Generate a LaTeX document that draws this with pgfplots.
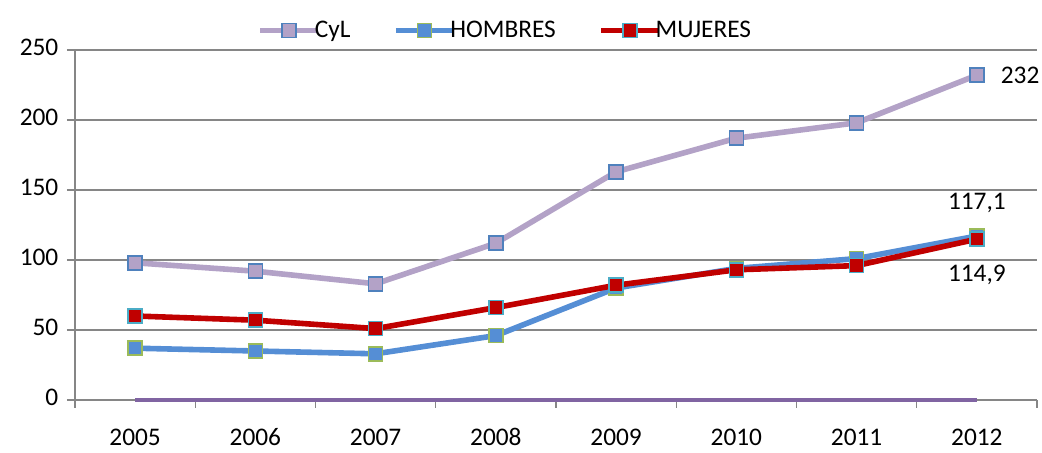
\documentclass[border=0pt]{standalone}
\usepackage{fontspec}
\setmainfont{Carlito}
\usepackage{pgfplots}
\pgfplotsset{compat=1.18}
\definecolor{cylline}{HTML}{B3A2C7}
\definecolor{cylmark}{HTML}{4F81BD}
\definecolor{homline}{HTML}{558ED5}
\definecolor{homedge}{HTML}{9BBB59}
\definecolor{mujline}{HTML}{C00000}
\definecolor{mujedge}{HTML}{4BACC6}
\definecolor{zeroline}{HTML}{8064A2}
\definecolor{gridgray}{HTML}{868686}
\begin{document}
\begin{tikzpicture}
\begin{axis}[
  scale only axis, width=721.5pt, height=262.5pt,
  xmin=-0.5, xmax=7.5, ymin=0, ymax=250,
  xtick={0,...,7}, xticklabels={2005,2006,2007,2008,2009,2010,2011,2012},
  minor xtick={-0.5,0.5,...,7.5},
  ytick={0,50,...,250},
  ymajorgrids, grid style={color=gridgray, line width=1.1pt},
  axis x line*=bottom, axis y line*=left,
  axis line style={gridgray, line width=1.1pt, -},
  tick align=outside,
  major x tick style={draw=none},
  minor x tick style={gridgray, line width=1.1pt},
  minor tick length=6pt,
  major tick length=6pt,
  y tick style={gridgray, line width=1.1pt},
  /pgf/number format/assume math mode=true,
  typeset ticklabels with strut,
  ticklabel style={font=\fontsize{19}{22}\selectfont},
  xticklabel style={yshift=-9pt},
  yticklabel style={xshift=-3pt},
  legend columns=3,
  legend style={at={(0.447,1.025)}, anchor=south, draw=none, fill=none,
    font=\fontsize{19}{22}\selectfont, inner sep=0pt,
    /tikz/every odd column/.append style={column sep=-5pt},
    /tikz/every even column/.append style={column sep=31pt},
    nodes={inner sep=1pt}},
  legend image code/.code={\draw[mark repeat=2,mark phase=2] plot coordinates {(0cm,0cm)(0.75cm,0cm)(1.5cm,0cm)};},
  clip=false,
]
\addplot[zeroline, line width=3pt, forget plot] coordinates {(0,0)(1,0)(2,0)(3,0)(4,0)(5,0)(6,0)(7,0)};
\addplot[cylline, line width=4.2pt, mark=square*, mark size=5.25pt,
  mark options={fill=cylline, draw=cylmark, line width=1.2pt}]
  coordinates {(0,98)(1,92)(2,83)(3,112)(4,163)(5,187)(6,198)(7,232)};
\addlegendentry{CyL}
\addplot[homline, line width=4.2pt, mark=square*, mark size=5.25pt,
  mark options={fill=homline, draw=homedge, line width=1.2pt}]
  coordinates {(0,37)(1,35)(2,33)(3,46)(4,80)(5,94)(6,101)(7,117.1)};
\addlegendentry{HOMBRES}
\addplot[mujline, line width=4.2pt, mark=square*, mark size=5.25pt,
  mark options={fill=mujline, draw=mujedge, line width=1.2pt}]
  coordinates {(0,60)(1,57)(2,51)(3,66)(4,82)(5,93)(6,96)(7,114.9)};
\addlegendentry{MUJERES}
\node[anchor=west, font=\fontsize{19}{22}\selectfont] at (axis cs:7.16,232) {232};
\node[font=\fontsize{19}{22}\selectfont] at (axis cs:7.0,141) {117,1};
\node[font=\fontsize{19}{22}\selectfont] at (axis cs:7.0,89) {114,9};
\end{axis}
\pgfresetboundingbox
\path ([shift={(-56.25pt,-39.75pt)}]current axis.south west) rectangle ([shift={(3.75pt,37.5pt)}]current axis.north east);
\end{tikzpicture}
\end{document}
